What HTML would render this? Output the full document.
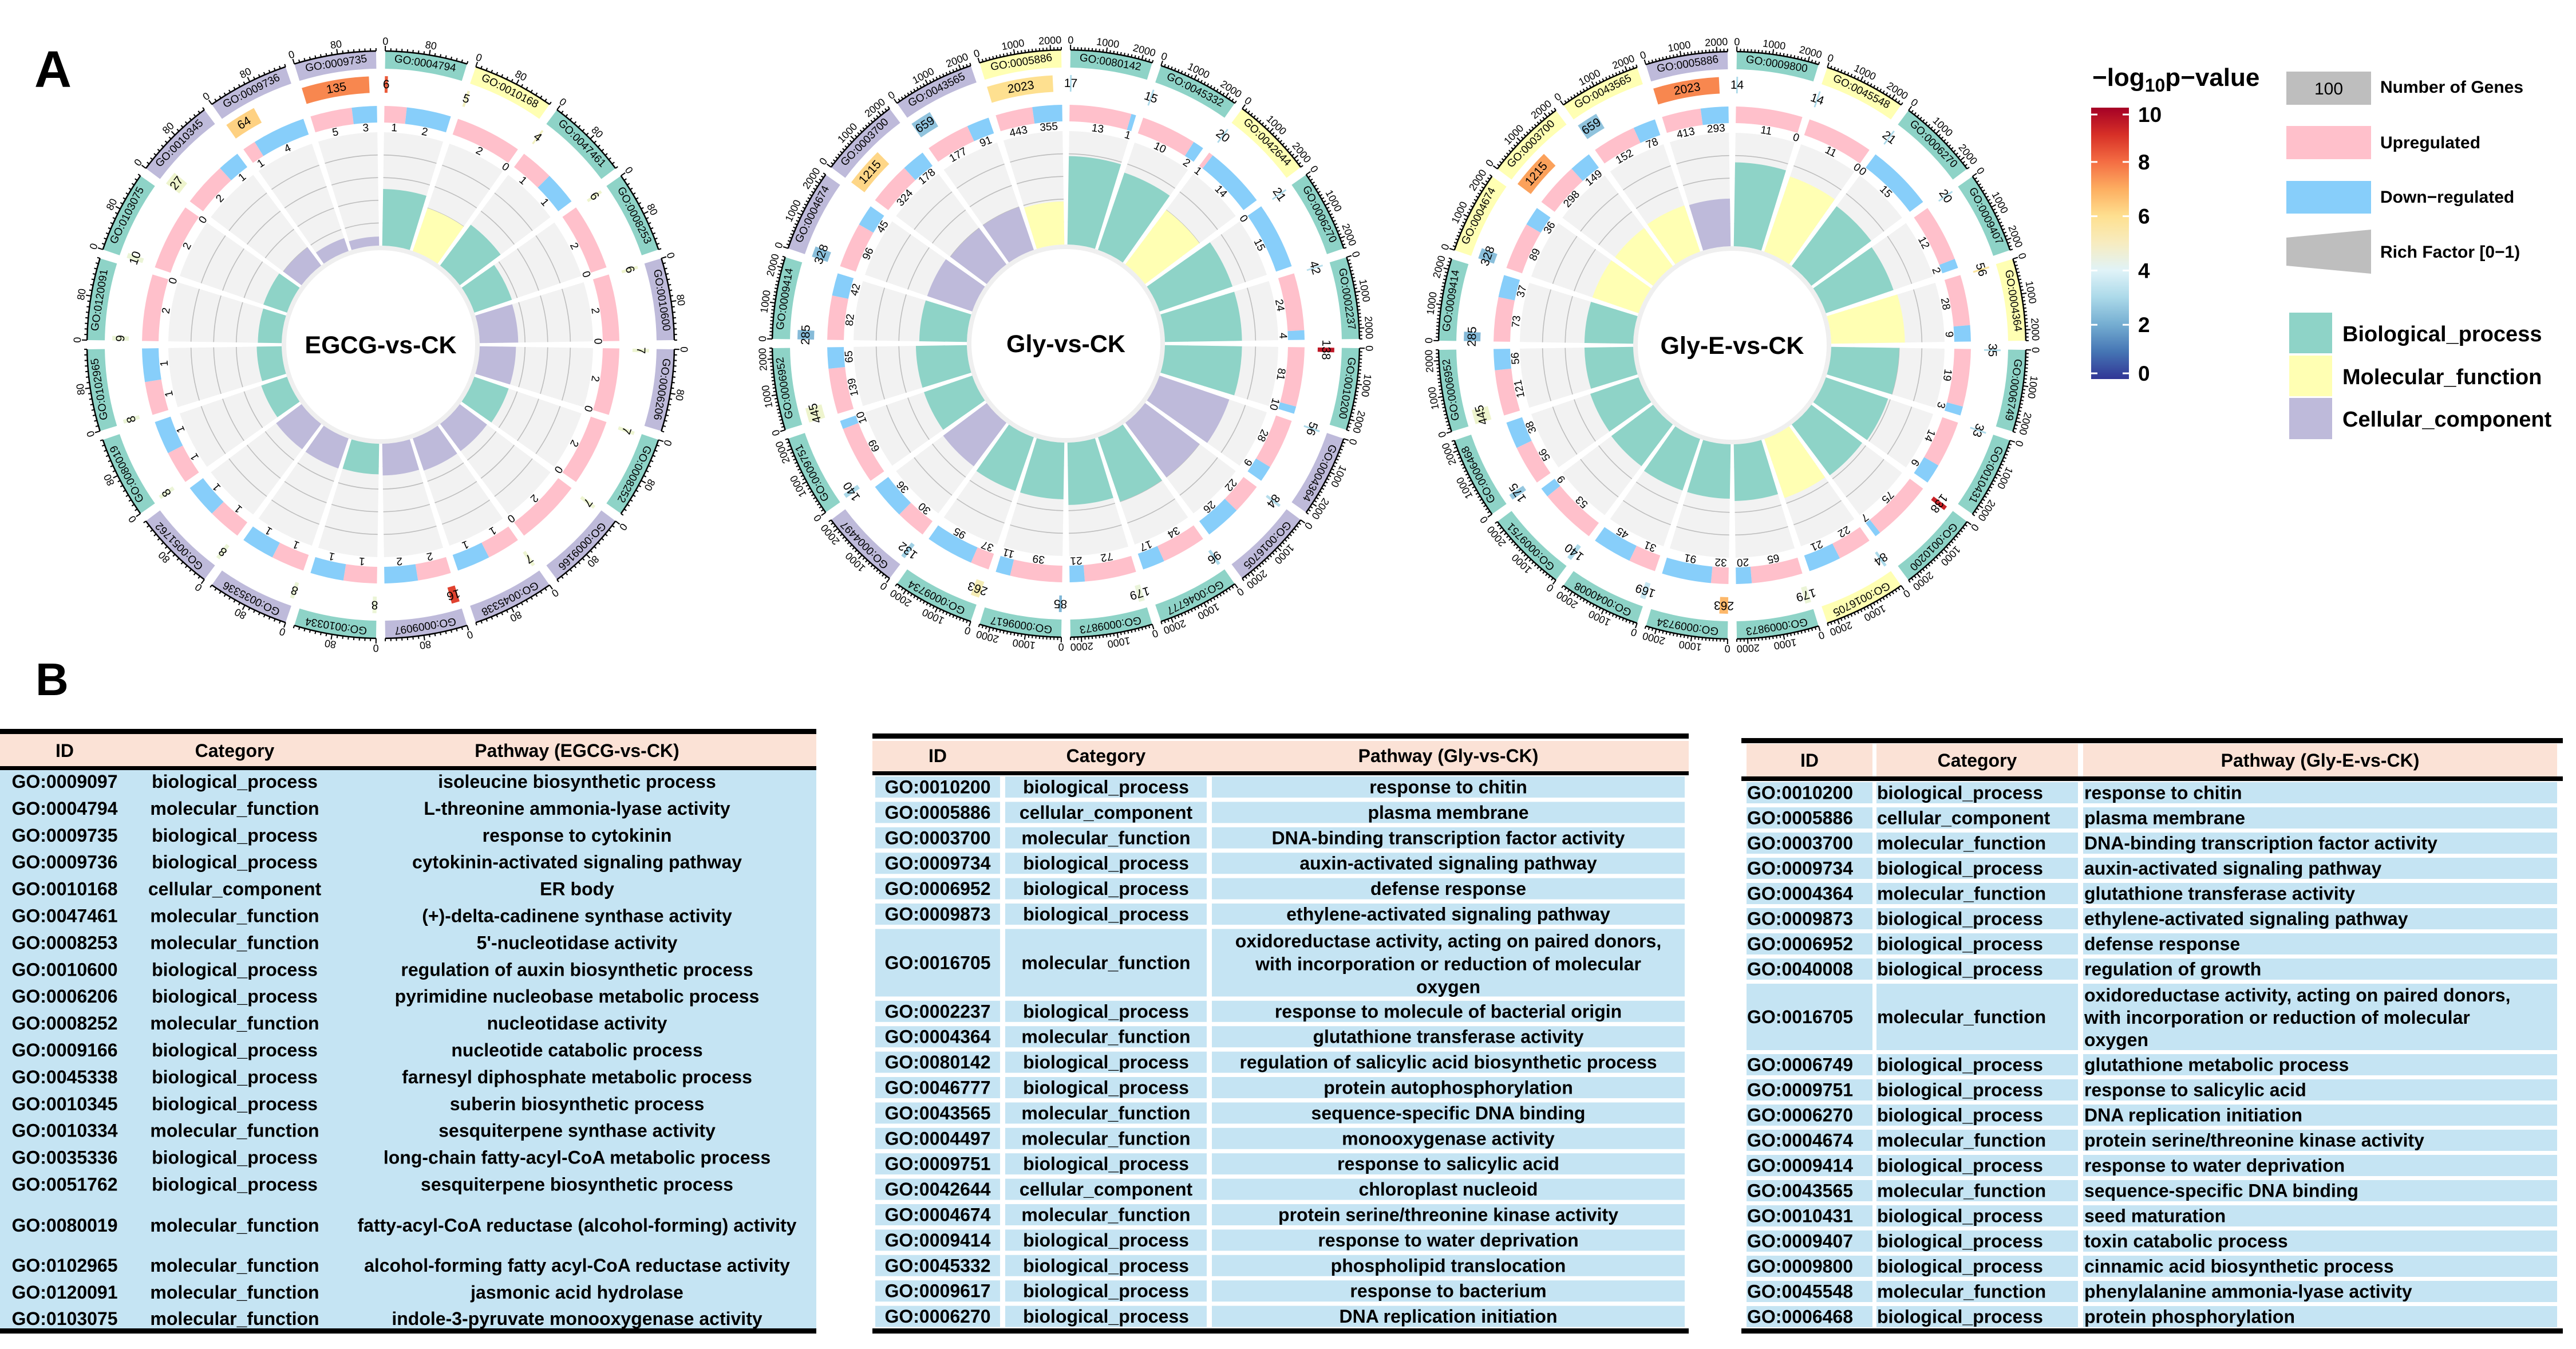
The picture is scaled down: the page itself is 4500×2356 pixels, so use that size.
<!DOCTYPE html>
<html><head><meta charset="utf-8"><style>
html,body{margin:0;padding:0;background:#fff;}
svg{display:block;font-family:"Liberation Sans",Arial,sans-serif;}
</style></head><body>
<svg id="fig" xmlns="http://www.w3.org/2000/svg" width="4500" height="2356" viewBox="0 0 4500 2356">
<defs>
<linearGradient id="cbar" x1="0" y1="1" x2="0" y2="0">
<stop offset="0" stop-color="#313695"/><stop offset="0.1" stop-color="#4575b4"/><stop offset="0.2" stop-color="#74add1"/><stop offset="0.3" stop-color="#abd9e9"/><stop offset="0.4" stop-color="#e0f3f8"/><stop offset="0.5" stop-color="#f7ecc0"/><stop offset="0.6" stop-color="#fee090"/><stop offset="0.7" stop-color="#fdae61"/><stop offset="0.8" stop-color="#f46d43"/><stop offset="0.9" stop-color="#d73027"/><stop offset="1" stop-color="#a50026"/>
</linearGradient>
</defs>
<rect x="0" y="0" width="4500" height="2356" fill="#fff"/>
<text x="60" y="152" font-size="90" font-weight="bold">A</text>
<text x="62" y="1214" font-size="80" font-weight="bold">B</text>
<g id="circA"></g>
<g id="circB"></g>
<g id="circC"></g>
<g id="legend">
<text x="3655" y="150" font-size="44" font-weight="bold">−log<tspan font-size="32" dy="10">10</tspan><tspan dy="-10">p−value</tspan></text>
<rect x="3653" y="188" width="66" height="474" fill="url(#cbar)"/>
<g id="cbticks"></g>
<rect x="3994" y="125" width="148" height="58" fill="#bebebe"/>
<text x="4068" y="165" font-size="30" text-anchor="middle">100</text>
<text x="4158" y="162" font-size="30" font-weight="bold">Number of Genes</text>
<rect x="3994" y="220" width="148" height="58" fill="#ffc0cb"/>
<text x="4158" y="259" font-size="30" font-weight="bold">Upregulated</text>
<rect x="3994" y="316" width="148" height="57" fill="#87cefa"/>
<text x="4158" y="354" font-size="30" font-weight="bold">Down−regulated</text>
<polygon points="3994,415 4142,401 4142,478 3994,464" fill="#bebebe"/>
<text x="4158" y="450" font-size="30" font-weight="bold">Rich Factor [0−1)</text>
<rect x="3999" y="546" width="75" height="71" fill="#8ed3c7"/>
<rect x="3999" y="621" width="75" height="71" fill="#ffffb3"/>
<rect x="3999" y="695" width="75" height="72" fill="#bebada"/>
<text x="4092" y="596" font-size="38" font-weight="bold">Biological_process</text>
<text x="4092" y="671" font-size="38" font-weight="bold">Molecular_function</text>
<text x="4092" y="745" font-size="38" font-weight="bold">Cellular_component</text>
</g>
<g id="tables"></g>
</svg>
<script>
// ---------- chart data (clockwise from 12 o'clock) ----------
const egcgIds = ["0004794","0010168","0047461","0008253","0010600","0006206","0008252","0009166","0045338","0009097","0010334","0035336","0051762","0080019","0102965","0120091","0103075","0010345","0009736","0009735"];
const egcgCats = ["b","m","b","b","c","c","b","c","c","c","b","c","c","b","b","b","b","c","c","c"];
const egcgCounts = [6,5,4,6,6,7,7,7,7,16,8,8,8,8,8,9,10,27,64,135];
const egcgPval = [8.3,5.2,5.2,5,5,4.9,4.9,4.9,4.9,8.7,4.8,4.8,4.8,4.8,4.8,4.8,4.8,5,6.3,7.6];
const egcgUp = [1,2,1,2,2,2,2,2,1,2,1,1,1,1,1,2,2,2,1,5];
const egcgDown = [2,0,1,0,0,0,0,0,1,2,1,1,1,1,1,0,0,1,4,3];
const egcgRich = [0.5,0.4,0.45,0.35,0.34,0.32,0.32,0.3,0.3,0.28,0.27,0.28,0.28,0.24,0.22,0.21,0.22,0.2,0.12,0.08];
const egcgTicks = [0,80];

const glyIds = ["0080142","0045332","0042644","0006270","0002237","0010200","0004364","0016705","0046777","0009873","0009617","0009734","0004497","0009751","0006952","0009414","0004674","0003700","0043565","0005886"];
const glyCats = ["b","b","m","b","b","b","c","c","b","b","b","b","c","b","b","b","c","c","c","m"];
const glyCounts = [17,15,20,21,42,138,56,84,96,179,85,263,132,140,445,285,328,1215,659,2023];
const glyPval = [3,3,3,3,3.2,9.5,3,3.2,3,4.7,2.2,5.4,2.8,3,5,2.3,2.4,6.2,2.5,6];
const glyUp = [13,10,1,0,24,81,28,22,34,72,39,37,30,69,139,82,96,324,177,443];
const glyDown = [1,2,14,15,4,10,9,26,17,21,11,95,36,10,65,42,45,178,91,355];
const glyRich = [0.78,0.72,0.6,0.68,0.68,0.68,0.65,0.6,0.6,0.55,0.5,0.5,0.48,0.45,0.45,0.42,0.42,0.4,0.4,0.38];
const glyTicks = [0,1000,2000];

const glyeIds = ["0009800","0045548","0006270","0009407","0004364","0006749","0010431","0010200","0016705","0009873","0009734","0040008","0009751","0006468","0006952","0009414","0004674","0003700","0043565","0005886"];
const glyeCats = ["b","m","b","b","m","b","b","b","m","b","b","b","b","b","b","b","m","m","m","c"];
const glyeCounts = [14,14,21,20,56,35,33,138,84,179,263,169,140,175,445,285,328,1215,659,2023];
const glyePval = [3,3,3,3,5.8,3,3,9.3,3,4.8,6.8,3.5,3,2.6,5,2.3,2.4,7.2,2.5,7.6];
const glyeUp = [11,11,0,12,28,19,14,75,22,65,32,31,53,56,121,73,89,298,152,413];
const glyeDown = [0,0,15,2,9,3,6,7,21,20,91,45,9,38,56,37,36,149,78,293];
const glyeRich = [0.74,0.7,0.66,0.63,0.65,0.6,0.58,0.56,0.55,0.5,0.48,0.48,0.46,0.45,0.43,0.43,0.43,0.42,0.43,0.42];
const glyeTicks = [0,1000,2000];

const colorbarTicks = [0,2,4,6,8,10];

const NS = "http://www.w3.org/2000/svg";
const CATCOL = {b:"#8ed3c7", m:"#ffffb3", c:"#bebada"};
const STOPS = [[0,[49,54,149]],[1,[69,117,180]],[2,[116,173,209]],[3,[171,217,233]],[4,[224,243,248]],[5,[238,244,205]],[6,[254,224,144]],[7,[253,174,97]],[8,[244,109,67]],[9,[215,48,39]],[10,[165,0,38]]];
function pcol(v){v=Math.max(0,Math.min(10,v));const i=Math.min(9,Math.floor(v));const t=v-i;const a=STOPS[i][1],b=STOPS[i+1][1];
 return "rgb("+a.map((c,k)=>Math.round(c+(b[k]-c)*t)).join(",")+")";}
function mk(tag,attrs,parent){const e=document.createElementNS(NS,tag);for(const k in attrs)e.setAttribute(k,attrs[k]);parent.appendChild(e);return e;}
function P(cx,cy,r,a){const t=a*Math.PI/180;return [cx+r*Math.sin(t),cy-r*Math.cos(t)];}
function arcPath(cx,cy,r0,r1,a0,a1){const L=(a1-a0)>180?1:0;const p1=P(cx,cy,r1,a0),p2=P(cx,cy,r1,a1),p3=P(cx,cy,r0,a1),p4=P(cx,cy,r0,a0);
 return "M"+p1+" A"+r1+" "+r1+" 0 "+L+" 1 "+p2+" L"+p3+" A"+r0+" "+r0+" 0 "+L+" 0 "+p4+"Z";}
function rtext(g,cx,cy,r,a,str,size,fill){const p=P(cx,cy,r,a);
 const t=mk("text",{x:p[0],y:p[1],"font-size":size,"text-anchor":"middle","dominant-baseline":"central",transform:"rotate("+a+" "+p[0]+" "+p[1]+")",fill:fill||"#000"},g);t.textContent=str;return t;}

const R = {bandIn:482,bandOut:512,axis:513,tickMaj:522,tickMin:518,tickLab:530,geneIn:440,geneOut:469,udIn:388,udOut:417,udLab:379,bgIn:173,bgOut:371,ringIn:165};
const GAP = 1.8;

function circos(gid,cx,cy,title,ids,cats,counts,pv,up,down,rich,ticks,axisMax,minorStep){
 const g=document.getElementById(gid);
 const n=ids.length, span=360/n;
 const inner=mk("circle",{cx:cx,cy:cy,r:R.bgIn,fill:"#efefef"},g);
 
 
 const white=mk("circle",{cx:cx,cy:cy,r:R.ringIn,fill:"#fff"},g);
 
 
 for(let i=0;i<n;i++){
  const a0=i*span+GAP/2, a1=(i+1)*span-GAP/2;
  const ang=v=>a0+(v/axisMax)*(a1-a0);
  const sg=mk("g",{},g);
  
  
  const bg=mk("path",{d:arcPath(cx,cy,R.bgIn,R.bgOut,a0,a1),fill:"#f2f2f2"},sg);
  
  
  for(let k=1;k<=4;k++){const r=R.bgIn+(R.bgOut-R.bgIn)*k/5;const p1=P(cx,cy,r,a0),p2=P(cx,cy,r,a1);
   const gl=mk("path",{d:"M"+p1+" A"+r+" "+r+" 0 0 1 "+p2,fill:"none",stroke:"#bdbdbd","stroke-width":1.6},sg);
   
   }
  const rr=R.bgIn+(R.bgOut-R.bgIn)*rich[i];
  const bar=mk("path",{d:arcPath(cx,cy,R.bgIn,rr,a0,a1),fill:CATCOL[cats[i]]},sg);
  
  
  const tot=up[i]+down[i];const am=a0+(a1-a0)*up[i]/tot;
  const upA=mk("path",{d:arcPath(cx,cy,R.udIn,R.udOut,a0,am),fill:"#ffc0cb"},sg);
  
  
  const dnA=mk("path",{d:arcPath(cx,cy,R.udIn,R.udOut,am,a1),fill:"#87cefa"},sg);
  
  
  const ut=rtext(sg,cx,cy,R.udLab,(a0+am)/2,String(up[i]),19);
  
  
  const dt=rtext(sg,cx,cy,R.udLab,(am+a1)/2,String(down[i]),19);
  
  
  const ga1=Math.max(ang(counts[i]),a0+0.35);
  const gb=mk("path",{d:arcPath(cx,cy,R.geneIn,R.geneOut,a0,ga1),fill:pcol(pv[i])},sg);
  
  
  const gt=rtext(sg,cx,cy,(R.geneIn+R.geneOut)/2,(a0+ga1)/2,String(counts[i]),21);
  
  
  const ob=mk("path",{d:arcPath(cx,cy,R.bandIn,R.bandOut,a0,a1),fill:CATCOL[cats[i]]},sg);
  
  
  const ot=rtext(sg,cx,cy,(R.bandIn+R.bandOut)/2,(a0+a1)/2,"GO:"+ids[i],19);
  
  
  const q1=P(cx,cy,R.axis,a0),q2=P(cx,cy,R.axis,a1);
  const ax=mk("path",{d:"M"+q1+" A"+R.axis+" "+R.axis+" 0 0 1 "+q2,fill:"none",stroke:"#000","stroke-width":2.5},sg);
  
  
  let d="";
  for(let v=0;v<=axisMax;v+=minorStep){const a=ang(v);const major=ticks.indexOf(v)>=0;
   const p1=P(cx,cy,R.axis,a),p2=P(cx,cy,major?R.tickMaj:R.tickMin,a);d+="M"+p1+" L"+p2+" ";}
  const tk=mk("path",{d:d,stroke:"#000","stroke-width":2,fill:"none"},sg);
  
  
  for(const v of ticks){const tl=rtext(sg,cx,cy,R.tickLab,ang(v),String(v),18);
   
   }
 }
 const tt=mk("text",{x:cx,y:cy+15,"font-size":43,"font-weight":"bold","text-anchor":"middle"},g);
 tt.textContent=title;
 
 
}
circos("circA",665,602,"EGCG-vs-CK",egcgIds,egcgCats,egcgCounts,egcgPval,egcgUp,egcgDown,egcgRich,egcgTicks,150,10);
circos("circB",1862,600,"Gly-vs-CK",glyIds,glyCats,glyCounts,glyPval,glyUp,glyDown,glyRich,glyTicks,2300,100);
circos("circC",3026,603,"Gly-E-vs-CK",glyeIds,glyeCats,glyeCounts,glyePval,glyeUp,glyeDown,glyeRich,glyeTicks,2300,100);

const cbg=document.getElementById("cbticks");
for(const v of colorbarTicks){const y=662-(v/10)*(662-188)+ (v===10?12:(v===0?-10:0));
 const l1=mk("line",{x1:3653,x2:3664,y1:y,y2:y,stroke:"#fff","stroke-width":3},cbg);
 
 
 const l2=mk("line",{x1:3708,x2:3719,y1:y,y2:y,stroke:"#fff","stroke-width":3},cbg);
 
 
 const t=mk("text",{x:3735,y:y+13,"font-size":37,"font-weight":"bold"},cbg);t.textContent=String(v);
 
 
}

const t1Rows=[["GO:0009097","biological_process","isoleucine biosynthetic process"],["GO:0004794","molecular_function","L-threonine ammonia-lyase activity"],["GO:0009735","biological_process","response to cytokinin"],["GO:0009736","biological_process","cytokinin-activated signaling pathway"],["GO:0010168","cellular_component","ER body"],["GO:0047461","molecular_function","(+)-delta-cadinene synthase activity"],["GO:0008253","molecular_function","5'-nucleotidase activity"],["GO:0010600","biological_process","regulation of auxin biosynthetic process"],["GO:0006206","biological_process","pyrimidine nucleobase metabolic process"],["GO:0008252","molecular_function","nucleotidase activity"],["GO:0009166","biological_process","nucleotide catabolic process"],["GO:0045338","biological_process","farnesyl diphosphate metabolic process"],["GO:0010345","biological_process","suberin biosynthetic process"],["GO:0010334","molecular_function","sesquiterpene synthase activity"],["GO:0035336","biological_process","long-chain fatty-acyl-CoA metabolic process"],["GO:0051762","biological_process","sesquiterpene biosynthetic process"],["GO:0080019","molecular_function","fatty-acyl-CoA reductase (alcohol-forming) activity"],["GO:0102965","molecular_function","alcohol-forming fatty acyl-CoA reductase activity"],["GO:0120091","molecular_function","jasmonic acid hydrolase"],["GO:0103075","molecular_function","indole-3-pyruvate monooxygenase activity"]];
const t2Rows=[["GO:0010200","biological_process","response to chitin"],["GO:0005886","cellular_component","plasma membrane"],["GO:0003700","molecular_function","DNA-binding transcription factor activity"],["GO:0009734","biological_process","auxin-activated signaling pathway"],["GO:0006952","biological_process","defense response"],["GO:0009873","biological_process","ethylene-activated signaling pathway"],["GO:0016705","molecular_function","oxidoreductase activity, acting on paired donors,|with incorporation or reduction of molecular|oxygen"],["GO:0002237","biological_process","response to molecule of bacterial origin"],["GO:0004364","molecular_function","glutathione transferase activity"],["GO:0080142","biological_process","regulation of salicylic acid biosynthetic process"],["GO:0046777","biological_process","protein autophosphorylation"],["GO:0043565","molecular_function","sequence-specific DNA binding"],["GO:0004497","molecular_function","monooxygenase activity"],["GO:0009751","biological_process","response to salicylic acid"],["GO:0042644","cellular_component","chloroplast nucleoid"],["GO:0004674","molecular_function","protein serine/threonine kinase activity"],["GO:0009414","biological_process","response to water deprivation"],["GO:0045332","biological_process","phospholipid translocation"],["GO:0009617","biological_process","response to bacterium"],["GO:0006270","biological_process","DNA replication initiation"]];
const t3Rows=[["GO:0010200","biological_process","response to chitin"],["GO:0005886","cellular_component","plasma membrane"],["GO:0003700","molecular_function","DNA-binding transcription factor activity"],["GO:0009734","biological_process","auxin-activated signaling pathway"],["GO:0004364","molecular_function","glutathione transferase activity"],["GO:0009873","biological_process","ethylene-activated signaling pathway"],["GO:0006952","biological_process","defense response"],["GO:0040008","biological_process","regulation of growth"],["GO:0016705","molecular_function","oxidoreductase activity, acting on paired donors,|with incorporation or reduction of molecular|oxygen"],["GO:0006749","biological_process","glutathione metabolic process"],["GO:0009751","biological_process","response to salicylic acid"],["GO:0006270","biological_process","DNA replication initiation"],["GO:0004674","molecular_function","protein serine/threonine kinase activity"],["GO:0009414","biological_process","response to water deprivation"],["GO:0043565","molecular_function","sequence-specific DNA binding"],["GO:0010431","biological_process","seed maturation"],["GO:0009407","biological_process","toxin catabolic process"],["GO:0009800","biological_process","cinnamic acid biosynthetic process"],["GO:0045548","molecular_function","phenylalanine ammonia-lyase activity"],["GO:0006468","biological_process","protein phosphorylation"]];

const TG=document.getElementById("tables");
function txt(x,y,s,anchor,name){const t=mk("text",{x:x,y:y,"font-size":32,"font-weight":"bold","text-anchor":anchor,"dominant-baseline":"central"},TG);t.textContent=s;
 
 return t;}
function rect(x,y,w,h,f,name){const r=mk("rect",{x:x,y:y,width:w,height:h,fill:f},TG);
 
 return r;}

rect(0,1282,1426,56,"#fbe2d6","table1-header");
rect(0,1345,1426,975,"#c5e4f3","table1-body");
rect(0,1273,1426,9,"#000","table1-top-rule");
rect(0,1338,1426,7,"#000","table1-header-rule");
rect(0,2320,1426,9,"#000","table1-bottom-rule");
txt(113,1311,"ID","middle","table1-header-id");
txt(410,1311,"Category","middle","table1-header-category");
txt(1008,1311,"Pathway (EGCG-vs-CK)","middle","table1-header-pathway");
const t1Y=[];for(let k=0;k<16;k++)t1Y.push(1365+46.9*k);t1Y.push(2140,2210,2257,2303);
t1Rows.forEach((r,k)=>{txt(113,t1Y[k],r[0],"middle","table1-id-cell");txt(410,t1Y[k],r[1],"middle","table1-category-cell");txt(1008,t1Y[k],r[2],"middle","table1-pathway-cell");});

rect(1524,1294,1426,53,"#fbe2d6","table2-header");
rect(1524,1281,1426,9,"#000","table2-top-rule");
rect(1524,1347,1426,7,"#000","table2-header-rule");
rect(1524,2320,1426,9,"#000","table2-bottom-rule");
txt(1638,1320,"ID","middle","table2-header-id");
txt(1932,1320,"Category","middle","table2-header-category");
txt(2530,1320,"Pathway (Gly-vs-CK)","middle","table2-header-pathway");
{let y=1356;t2Rows.forEach((r,k)=>{const lines=r[2].split("|");const h=lines.length>1?118:37;
 rect(1529,y,218,h,"#c5e4f3","table2-cell");rect(1756,y,352,h,"#c5e4f3","table2-cell");rect(2117,y,826,h,"#c5e4f3","table2-cell");
 const c=y+h/2;txt(1638,c,r[0],"middle","table2-id-cell");txt(1932,c,r[1],"middle","table2-category-cell");
 if(lines.length>1){lines.forEach((s,j)=>txt(2530,y+21+j*40,s,"middle","table2-pathway-cell"));}else txt(2530,c,r[2],"middle","table2-pathway-cell");
 y+=h+7.4;});}

rect(3042,1289,1435,9,"#000","table3-top-rule");
rect(3051,1299,220,57,"#fbe2d6","table3-header-cell");rect(3278,1299,352,57,"#fbe2d6","table3-header-cell");rect(3639,1299,828,57,"#fbe2d6","table3-header-cell");
rect(3042,1356,1435,8,"#000","table3-header-rule");
rect(3042,2320,1435,9,"#000","table3-bottom-rule");
txt(3161,1328,"ID","middle","table3-header-id");
txt(3454,1328,"Category","middle","table3-header-category");
txt(4053,1328,"Pathway (Gly-E-vs-CK)","middle","table3-header-pathway");
{let y=1366;t3Rows.forEach((r,k)=>{const lines=r[2].split("|");const h=lines.length>1?116:37;
 rect(3051,y,220,h,"#c5e4f3","table3-cell");rect(3278,y,352,h,"#c5e4f3","table3-cell");rect(3639,y,828,h,"#c5e4f3","table3-cell");
 const c=y+h/2;txt(3052,c,r[0],"start","table3-id-cell");txt(3279,c,r[1],"start","table3-category-cell");
 if(lines.length>1){lines.forEach((s,j)=>txt(3641,y+20+j*39,s,"start","table3-pathway-cell"));}else txt(3641,c,r[2],"start","table3-pathway-cell");
 y+=h+7;});}
</script>
</body></html>
